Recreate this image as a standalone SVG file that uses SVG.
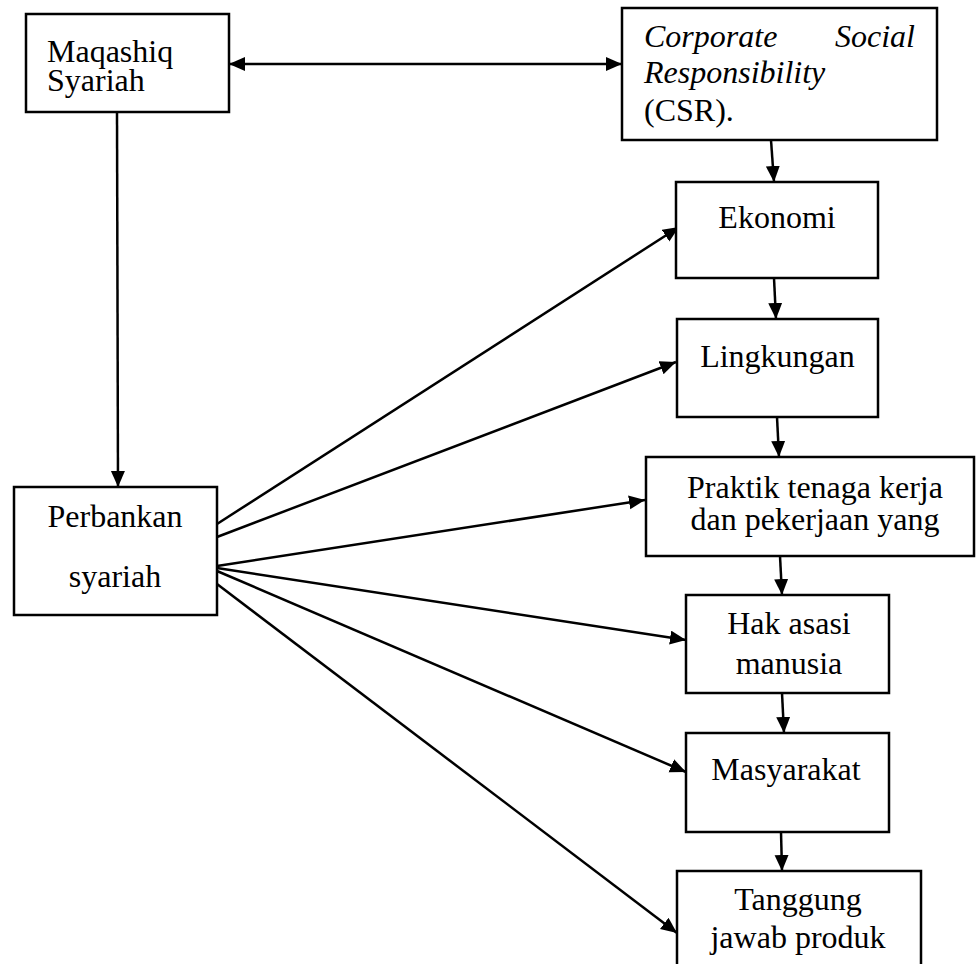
<svg xmlns="http://www.w3.org/2000/svg" width="976" height="964" viewBox="0 0 976 964" font-family="Liberation Serif, Times New Roman, serif">
<style>
.box{fill:#fff;stroke:#000;stroke-width:2.5}
.t{font-size:32px;fill:#000}
.c{text-anchor:middle}
.i{font-style:italic}
.ln{stroke:#000;stroke-width:2.5;fill:none;marker-end:url(#ah)}
</style>
<defs>
<marker id="ah" markerUnits="userSpaceOnUse" markerWidth="17" markerHeight="15" refX="16" refY="7" orient="auto-start-reverse">
<path d="M0,0 L16,7 L0,14 z" fill="#000"/>
</marker>
</defs>
<rect width="976" height="964" fill="#fff"/>
<g id="connectors">
<line class="ln" x1="229" y1="64" x2="622" y2="64" style="marker-start:url(#ah)"/>
<line class="ln" x1="117" y1="112" x2="118" y2="487"/>
<line class="ln" x1="771" y1="140" x2="774" y2="182"/>
<line class="ln" x1="774" y1="278" x2="776" y2="319"/>
<line class="ln" x1="777" y1="417" x2="779" y2="457"/>
<line class="ln" x1="780" y1="556" x2="782" y2="595"/>
<line class="ln" x1="782" y1="693" x2="784" y2="733"/>
<line class="ln" x1="781" y1="832" x2="782" y2="871"/>
<line class="ln" x1="217" y1="524" x2="679" y2="227"/>
<line class="ln" x1="217" y1="537" x2="676" y2="362"/>
<line class="ln" x1="217" y1="566" x2="645" y2="500"/>
<line class="ln" x1="217" y1="568" x2="686" y2="640"/>
<line class="ln" x1="217" y1="571" x2="686" y2="772"/>
<line class="ln" x1="217" y1="584" x2="677" y2="933"/>
</g>
<g id="maqashiq">
<rect class="box" x="26" y="14" width="203" height="98"/>
<text class="t" font-family="Liberation Serif" x="47" y="62">Maqashiq</text>
<text class="t" font-family="Liberation Serif" x="47" y="91">Syariah</text>
</g>
<g id="csr">
<rect class="box" x="622" y="8" width="315" height="132"/>
<text class="t i" font-family="Liberation Serif" x="644" y="47">Corporate</text>
<text class="t i" font-family="Liberation Serif" x="915" y="47" text-anchor="end">Social</text>
<text class="t i" font-family="Liberation Serif" x="644" y="83">Responsibility</text>
<text class="t" font-family="Liberation Serif" x="644" y="121">(CSR).</text>
</g>
<g id="perbankan">
<rect class="box" x="14" y="487" width="203" height="128"/>
<text class="t c" font-family="Liberation Serif" x="115" y="527">Perbankan</text>
<text class="t c" font-family="Liberation Serif" x="115" y="587">syariah</text>
</g>
<g id="ekonomi">
<rect class="box" x="676" y="182" width="202" height="96"/>
<text class="t c" font-family="Liberation Serif" x="777" y="228">Ekonomi</text>
</g>
<g id="lingkungan">
<rect class="box" x="677" y="319" width="201" height="98"/>
<text class="t c" font-family="Liberation Serif" x="777.5" y="367">Lingkungan</text>
</g>
<g id="praktik">
<rect class="box" x="646" y="457" width="328" height="99"/>
<text class="t c" font-family="Liberation Serif" x="815" y="498">Praktik tenaga kerja</text>
<text class="t c" font-family="Liberation Serif" x="815" y="530">dan pekerjaan yang</text>
</g>
<g id="hak">
<rect class="box" x="686" y="595" width="203" height="98"/>
<text class="t c" font-family="Liberation Serif" x="789" y="634">Hak asasi</text>
<text class="t c" font-family="Liberation Serif" x="789" y="674">manusia</text>
</g>
<g id="masyarakat">
<rect class="box" x="686" y="733" width="203" height="99"/>
<text class="t c" font-family="Liberation Serif" x="786" y="780">Masyarakat</text>
</g>
<g id="tanggung">
<rect class="box" x="677" y="871" width="244" height="110"/>
<text class="t c" font-family="Liberation Serif" x="798" y="910">Tanggung</text>
<text class="t c" font-family="Liberation Serif" x="798" y="948">jawab produk</text>
</g>
</svg>
